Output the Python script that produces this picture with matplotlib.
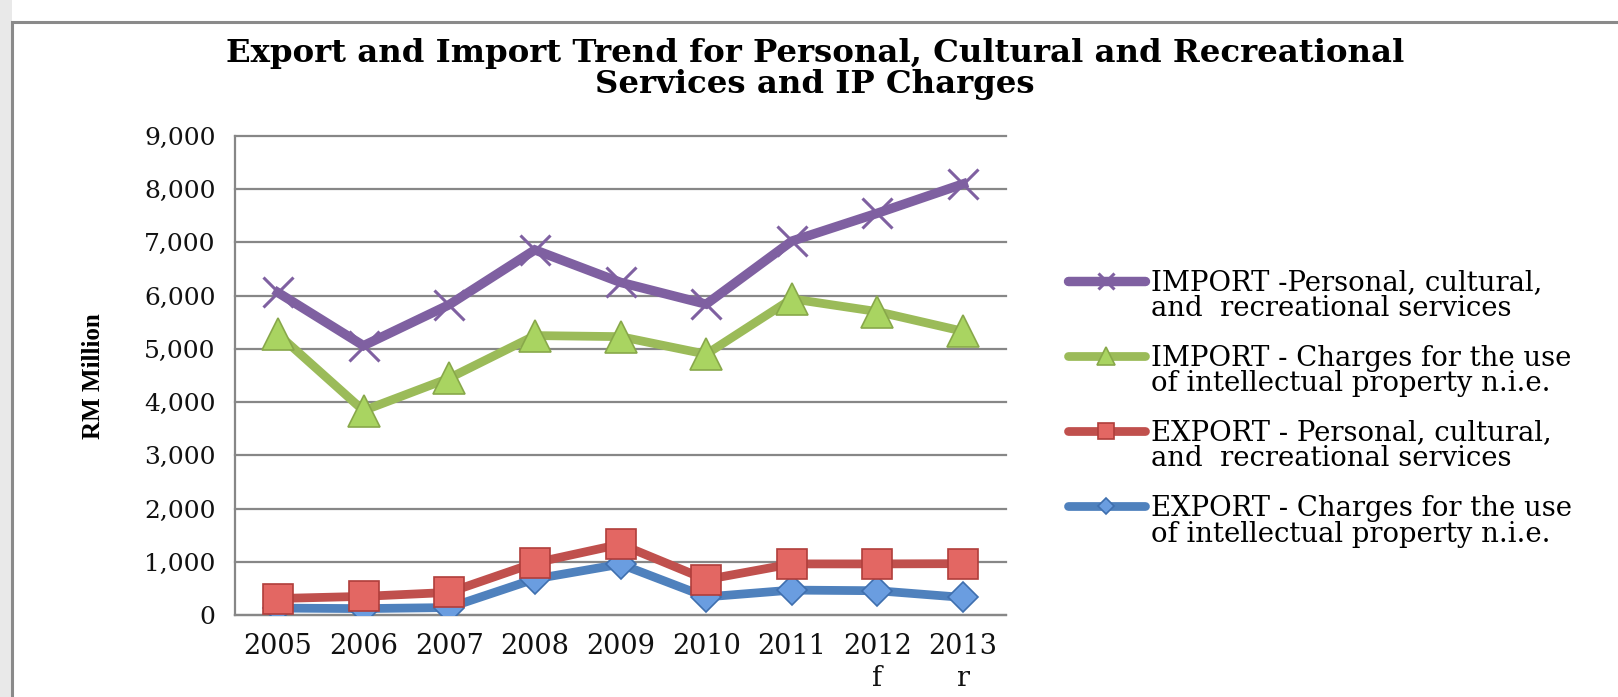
import matplotlib
matplotlib.use("Agg")
import matplotlib.pyplot as plt
from matplotlib.lines import Line2D
from matplotlib.patches import Rectangle
from matplotlib.ticker import FuncFormatter

years = ["2005", "2006", "2007", "2008", "2009", "2010", "2011", "2012\nf", "2013\nr"]
import_personal = [6060, 5060, 5830, 6860, 6250, 5840, 7025, 7550, 8100]
import_ip = [5280, 3840, 4450, 5250, 5230, 4900, 5940, 5700, 5330]
export_personal = [310, 350, 425, 980, 1330, 665, 960, 960, 965]
export_ip = [130, 120, 140, 677, 955, 340, 468, 456, 330]

labels = [
    ["IMPORT -Personal, cultural,", "and  recreational services"],
    ["IMPORT - Charges for the use", "of intellectual property n.i.e."],
    ["EXPORT - Personal, cultural,", "and  recreational services"],
    ["EXPORT - Charges for the use", "of intellectual property n.i.e."],
]

W, H = 1618, 697
fig = plt.figure(figsize=(W / 100, H / 100), dpi=100)
fig.patch.set_facecolor("white")

# page background and chart border
fig.add_artist(Rectangle((0, 0), 12 / W, 1, transform=fig.transFigure,
                         facecolor="#e9e9e9", edgecolor="none", zorder=0))
fig.add_artist(Rectangle((12 / W, -0.1), 1.2, 1.1 - 22 / H, transform=fig.transFigure,
                         facecolor="none", edgecolor="#8a8a8a", linewidth=2.2, zorder=1))

left, right, top, bottom = 235, 1006, 136, 615
ax = fig.add_axes([left / W, 1 - bottom / H, (right - left) / W, (bottom - top) / H])

x = list(range(len(years)))
styles = [
    (import_personal, dict(color="#7f60a1", lw=6.8, marker="x", ms=21, mew=2.2,
                           mec="#7f60a1", zorder=6)),
    (import_ip, dict(color="#9bbb59", lw=6.3, marker="^", ms=23, mfc="#a9d461",
                     mec="#88a84a", mew=1.2, zorder=5)),
    (export_personal, dict(color="#c0504d", lw=6.3, marker="s", ms=21, mfc="#e36763",
                           mec="#b03e3b", mew=1.2, zorder=4)),
    (export_ip, dict(color="#4f81bd", lw=6.3, marker="D", ms=15, mfc="#6a9de0",
                     mec="#3f6fae", mew=1.2, zorder=3)),
]
for (vals, st), lab in zip(styles, labels):
    ax.plot(x, vals, label=" ".join(lab), solid_joinstyle="miter", **st)

ax.set_xlim(-0.5, len(years) - 0.5)
ax.set_ylim(0, 9000)
ax.set_yticks(range(0, 9001, 1000))
ax.yaxis.set_major_formatter(FuncFormatter(lambda v, p: f"{int(v):,}"))
ax.set_xticks(x)
ax.set_xticklabels(years, fontfamily="DejaVu Serif", fontsize=19.5, linespacing=1.25)
for t in ax.get_yticklabels():
    t.set_fontfamily("DejaVu Serif")
    t.set_fontsize(18)
ax.tick_params(axis="both", length=0, colors="#111111")
ax.tick_params(axis="x", pad=13)
ax.tick_params(axis="y", pad=14)
ax.grid(axis="y", color="#878787", linewidth=1.6)
for gl in ax.get_ygridlines():
    gl.set_clip_on(False)
ax.set_axisbelow(True)
for s in ["top", "right"]:
    ax.spines[s].set_visible(False)
for s in ["left", "bottom"]:
    ax.spines[s].set_color("#878787")
    ax.spines[s].set_linewidth(1.6)

fig.text(94 / W, 1 - 376 / H, "RM Million", rotation=90, ha="center", va="center",
         fontfamily="Liberation Serif", fontweight="bold", fontsize=18)

fig.text(815 / W, 1 - 69 / H,
         "Export and Import Trend for Personal, Cultural and Recreational\nServices and IP Charges",
         ha="center", va="center", fontfamily="DejaVu Serif", fontweight="bold",
         fontsize=23.3, linespacing=1.0)

# legend
ys = [281, 356, 431, 506]
for (vals, st), lab, yy in zip(styles, labels, ys):
    yf = 1 - yy / H
    fig.add_artist(Line2D([1068 / W, 1145 / W], [yf, yf], transform=fig.transFigure,
                          color=st["color"], lw=st["lw"], solid_capstyle="round"))
    fig.add_artist(Line2D([1106 / W], [yf], transform=fig.transFigure,
                          marker=st["marker"], ms=st["ms"] * 0.55, color=st["color"],
                          mfc=st.get("mfc", st["color"]), mec=st.get("mec", st["color"]),
                          mew=st.get("mew", 1), lw=0))
    for i, line in enumerate(lab):
        fig.text(1151 / W, 1 - (yy + 9.5 + i * 26) / H, line, ha="left", va="baseline",
                 fontfamily="DejaVu Serif", fontsize=19.8)

fig.savefig("out.png", dpi=100)
